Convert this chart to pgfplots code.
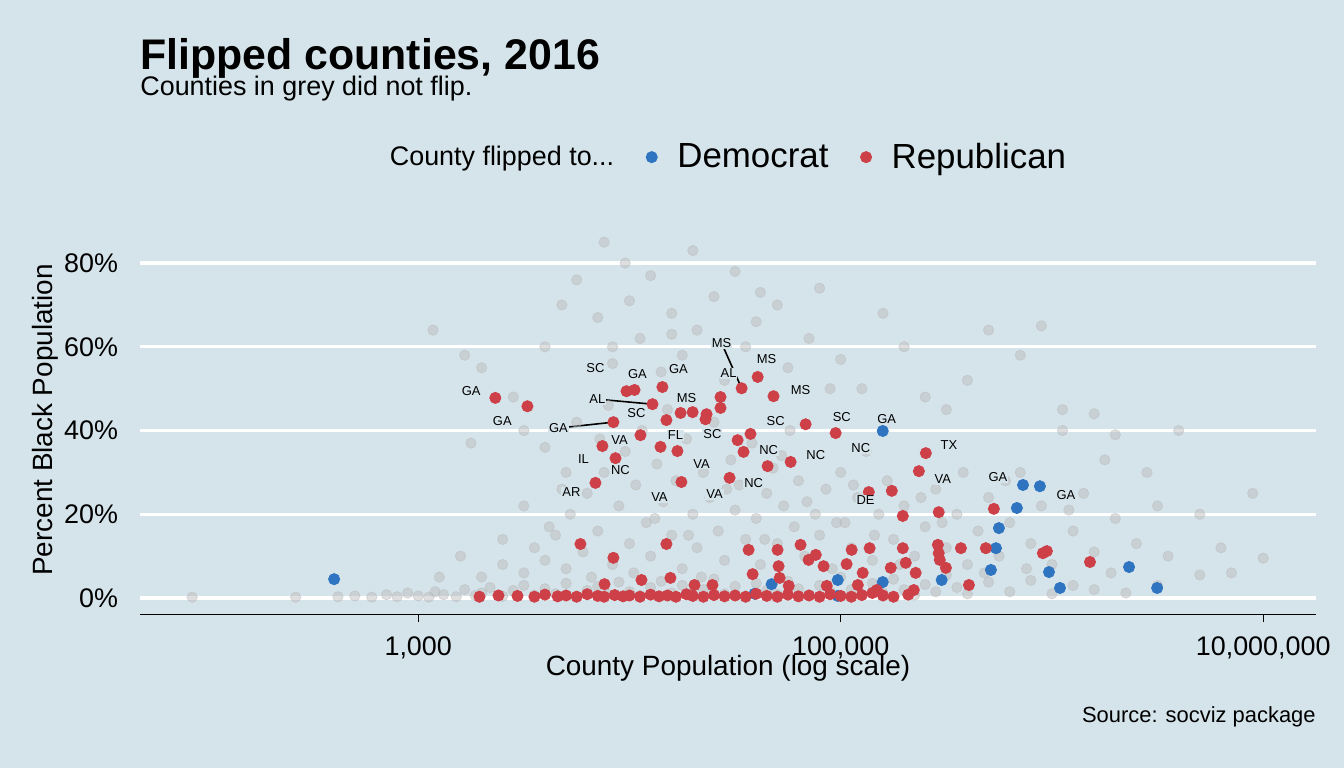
\documentclass[border=0pt]{standalone}
\usepackage{pgfplots}
\pgfplotsset{compat=1.18}
\usepackage{fontspec}
\setmainfont{Liberation Sans}
\definecolor{bg}{RGB}{213,228,235}
\definecolor{rep}{RGB}{205,64,72}
\definecolor{dem}{RGB}{46,116,192}
\definecolor{gr}{RGB}{185,185,185}
\begin{document}
\begin{tikzpicture}
\path[fill=bg] (0,0) rectangle (672bp,384bp);
\node[anchor=base west,font=\bfseries\fontsize{21.5}{24}\selectfont,inner sep=0pt] at (70bp,349bp) {Flipped counties, 2016};
\node[anchor=base west,font=\fontsize{13.5}{15}\selectfont,inner sep=0pt] at (70bp,336bp) {Counties in grey did not flip.};
\node[anchor=base east,font=\fontsize{11}{13}\selectfont,inner sep=0pt] at (658bp,23bp) {Source: socviz package};
\begin{axis}[at={(70bp,76.5bp)},anchor=south west,scale only axis,width=588bp,height=195bp,
 xmin=1.683,xmax=7.25,ymin=-4.06,ymax=89.1,
 axis line style={draw=none},
 xtick={3,5,7},xticklabels={1{,}000,100{,}000,10{,}000{,}000},
 ytick={0,20,40,60,80},yticklabels={0\%,20\%,40\%,60\%,80\%},
 xtick pos=lower,
 tick align=outside,major tick length=3.5bp,
 xtick style={black,line width=0.6bp},ytick style={draw=none},
 ymajorgrids,grid style={white,line width=1.6bp},
 ticklabel style={font=\fontsize{13.5}{15}\selectfont},
 xticklabel style={yshift=-4bp},
 yticklabel style={xshift=-4bp},
 xlabel={County Population (log scale)},ylabel={Percent Black Population},
 label style={font=\fontsize{14}{16}\selectfont},
 xlabel style={yshift=9bp},ylabel style={yshift=-4bp},
 legend columns=-1,
 legend style={at={(0.5,1.174)},anchor=center,draw=none,fill=none,
   font=\fontsize{17.5}{20}\selectfont,/tikz/every even column/.append style={column sep=14bp}},
 legend cell align=left,
]
\draw[black,line width=0.6bp] (rel axis cs:0,0)--(rel axis cs:1,0);
\addlegendimage{empty legend}
\addlegendentry{\fontsize{13.5}{15}\selectfont County flipped to...}
\addplot[only marks,mark=*,mark size=2.6bp,gr,opacity=0.45,forget plot] table {
1.93 0.2
2.42 0.2
2.62 0.3
2.7 0.5
2.78 0.2
2.85 0.8
2.9 0.3
2.95 1.2
3.0 0.5
3.05 0.2
3.08 1.5
3.12 0.8
3.18 0.3
3.22 2.0
3.27 0.6
3.3 1.2
3.34 2.5
3.4 0.4
3.45 1.8
3.5 3.0
3.55 0.7
3.6 2.2
3.65 1.0
3.7 3.5
3.75 0.5
3.8 1.8
3.85 2.8
3.9 0.9
3.95 3.8
4.0 1.5
4.05 0.6
4.1 2.5
4.15 4.0
4.2 1.2
4.25 3.0
4.3 0.8
4.35 2.0
4.4 4.5
4.45 1.0
4.5 2.8
4.55 0.5
4.6 3.5
4.65 1.8
4.7 0.9
4.75 4.0
4.8 2.2
4.85 0.7
4.9 3.0
4.95 1.5
5.0 5.0
5.05 2.0
5.1 0.8
5.15 3.5
5.2 1.2
5.25 4.5
5.3 2.0
5.35 0.7
5.4 3.2
5.45 1.5
5.5 5.5
5.55 2.5
5.6 1.0
5.7 3.8
5.8 1.5
5.9 4.2
6.0 1.0
6.1 3.0
6.2 2.0
6.35 1.2
6.5 3.0
6.7 5.5
6.85 6.0
3.3 5
3.4 8
3.5 6
3.55 12
3.6 9
3.65 15
3.7 7
3.72 20
3.78 11
3.8 25
3.85 16
3.88 30
3.92 8
3.95 22
3.98 35
4.0 13
4.03 27
4.06 40
4.08 18
4.1 10
4.13 32
4.16 23
4.18 45
4.2 15
4.22 28
4.25 7
4.27 38
4.3 20
4.32 12
4.35 30
4.38 24
4.4 42
4.42 16
4.45 9
4.48 33
4.5 21
4.52 27
4.55 14
4.58 37
4.6 19
4.62 8
4.65 25
4.68 31
4.7 13
4.73 22
4.76 40
4.78 17
4.8 28
4.83 10
4.86 34
4.88 20
4.9 15
4.93 26
4.96 7
5.0 30
5.02 18
5.05 12
5.08 24
5.12 35
5.15 9
5.18 20
5.22 28
5.25 14
5.3 22
5.35 10
5.4 17
5.45 26
5.5 12
5.55 20
5.6 8
5.65 16
5.7 24
5.75 10
5.8 18
5.85 30
5.9 13
5.95 22
6.0 8
6.05 40
6.1 16
6.15 25
6.2 11
6.25 33
6.3 19
6.4 13
6.45 30
6.5 22
6.55 10
6.6 40
6.7 20
6.8 12
6.95 25
7.0 9.5
3.6 36
3.75 42
3.9 46
3.7 30
3.5 22
3.4 14
3.2 10
3.1 5
3.25 37
3.07 64
3.22 58
3.6 60
3.68 70
3.75 76
3.85 67
3.88 85
3.92 56
3.98 80
4.0 71
4.05 62
4.1 77
4.15 54
4.2 68
4.25 58
4.3 83
4.32 64
4.4 72
4.45 52
4.5 78
4.55 60
4.6 66
4.7 70
4.75 55
4.85 62
4.9 74
5.0 57
5.1 50
5.2 68
5.3 60
5.4 48
5.5 45
5.6 52
5.7 64
5.85 58
5.95 65
6.05 45
6.2 44
6.3 39
3.3 55
3.45 48
3.5 40
4.62 73
4.95 50
3.92 60
4.2 63
3.62 17
3.68 26
3.82 5
3.86 38
4.02 6
4.12 19
4.28 15
4.34 5
4.46 26
4.64 14
4.72 34
4.84 23
4.98 18
5.06 27
5.16 15
5.28 8
5.38 24
5.48 18
5.58 30
5.68 6
5.78 28
5.88 7
6.08 21
6.28 6
};
\addplot[only marks,mark=*,mark size=2.8bp,dem,mark options={draw=dem}] table {
2.602 4.5
4.592 1.0
4.673 3.3
4.986 4.3
4.986 0.5
5.199 3.8
5.478 4.3
5.711 6.7
5.735 11.9
5.749 16.7
5.834 21.5
5.863 27.0
5.943 26.7
5.986 6.2
6.038 2.4
6.365 7.4
6.498 2.4
5.199 39.9
};
\addlegendentry{\hspace{8bp}Democrat}
\addplot[only marks,mark=*,mark size=2.8bp,rep,mark options={draw=rep}] table {
3.365 47.8
3.517 45.8
3.986 49.4
4.024 49.7
4.156 50.4
4.109 46.3
4.242 44.2
4.175 42.5
3.924 42.0
3.872 36.3
4.052 38.9
3.934 33.4
4.147 36.1
4.227 35.1
3.839 27.5
4.246 27.7
4.474 28.7
4.531 50.1
4.607 52.8
4.682 48.2
4.834 41.5
4.976 39.4
5.403 34.6
5.370 30.3
5.133 25.3
5.242 25.6
4.299 44.4
4.365 43.9
4.431 48.0
4.431 45.4
4.512 37.7
4.540 34.9
4.573 39.2
4.654 31.5
4.763 32.5
4.360 42.7
3.768 12.9
3.924 9.6
4.175 12.9
4.564 11.5
4.701 11.5
4.810 12.7
4.882 10.3
5.052 11.5
5.294 19.6
5.464 20.5
5.725 21.3
5.569 11.9
5.687 11.9
5.976 11.2
6.180 8.6
5.957 10.7
5.294 11.9
5.460 12.7
5.464 10.7
5.137 11.9
5.237 7.2
5.308 8.4
5.355 6.0
5.469 9.1
5.498 7.2
5.607 3.1
4.583 5.7
4.706 7.6
4.711 4.8
4.848 9.1
4.919 7.6
5.028 8.1
5.104 6.0
5.171 1.9
5.346 1.9
4.934 2.9
4.754 2.9
4.393 3.1
4.308 3.1
4.194 4.8
4.057 4.3
3.882 3.3
5.081 3.1
3.29 0.3
3.38 0.6
3.47 0.5
3.55 0.3
3.60 0.8
3.66 0.4
3.70 0.6
3.75 0.3
3.80 0.9
3.85 0.5
3.88 0.3
3.93 0.7
3.97 0.4
4.00 0.6
4.05 0.3
4.10 0.8
4.14 0.4
4.18 0.6
4.22 0.3
4.27 0.9
4.30 0.5
4.35 0.3
4.40 0.7
4.45 0.4
4.50 0.6
4.55 0.3
4.60 1.0
4.65 0.5
4.70 0.3
4.75 0.8
4.80 0.4
4.85 0.6
4.90 0.3
4.95 0.9
5.00 0.5
5.05 0.3
5.10 0.7
5.15 1.2
5.20 0.6
5.25 0.3
5.32 0.8
};
\addlegendentry{\hspace{8bp}Republican}
\addplot[black,line width=0.8bp,forget plot] coordinates {(3.848,47.5)(4.109,46.3)};
\addplot[black,line width=0.8bp,forget plot] coordinates {(3.664,40.6)(3.924,42.0)};
\addplot[black,line width=0.8bp,forget plot] coordinates {(4.436,60.9)(4.531,50.1)};
\addplot[only marks,mark=none,forget plot,nodes near coords,point meta=explicit symbolic,
 every node near coord/.style={anchor=center,font=\fontsize{6.5}{7}\selectfont,black,fill=bg,inner sep=0.5bp}]
 table[meta=lab] {
x y lab
3.251 49.4 GA
3.398 42.3 GA
3.839 54.9 SC
4.038 53.5 GA
4.232 54.7 GA
3.848 47.5 AL
4.270 47.8 MS
4.033 44.2 SC
3.664 40.6 GA
3.953 37.7 VA
4.218 38.9 FL
4.393 39.2 SC
3.782 33.2 IL
3.957 30.6 NC
3.725 25.3 AR
4.142 24.1 VA
4.341 32.0 VA
4.403 24.8 VA
4.588 27.5 NC
4.659 35.3 NC
4.882 34.1 NC
5.095 35.8 NC
4.436 60.9 MS
4.649 57.1 MS
4.469 53.7 AL
4.810 49.7 MS
4.692 42.3 SC
5.005 43.2 SC
5.218 42.7 GA
5.512 36.5 TX
5.483 28.4 VA
5.118 23.4 DE
5.744 28.9 GA
6.066 24.6 GA
};
\end{axis}
\end{tikzpicture}
\end{document}
